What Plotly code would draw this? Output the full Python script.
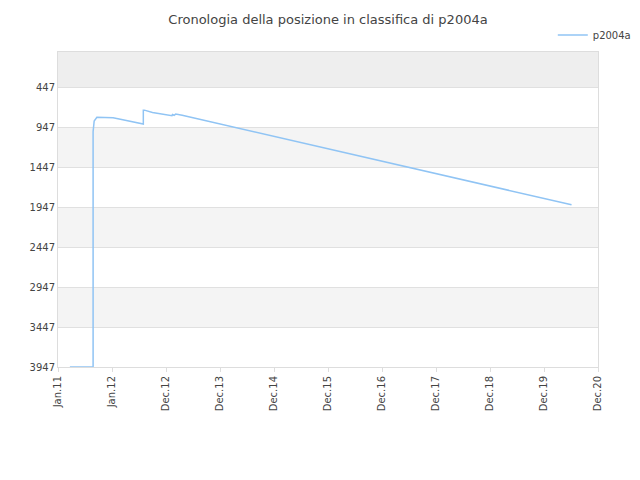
import plotly.graph_objects as go

# years since Jan 2011 and rank position
years = [0.22, 0.65, 0.65, 0.67, 0.72, 1.02, 1.20, 1.58, 1.58, 1.60, 1.75, 2.11, 2.12, 2.15, 2.18, 2.30, 9.51]
ranks = [3947, 3947, 1000, 867, 821, 825, 850, 904, 731, 731, 760, 801, 785, 795, 780, 795, 1916]

tick_vals = list(range(11))
tick_text = ["Jan.11", "Jan.12", "Dec.12", "Dec.13", "Dec.14", "Dec.15",
             "Dec.16", "Dec.17", "Dec.18", "Dec.19", "Dec.20"]
y_ticks = [447, 947, 1447, 1947, 2447, 2947, 3447, 3947]

fig = go.Figure()
fig.add_trace(go.Scatter(x=years, y=ranks, mode="lines", name="p2004a",
                         line=dict(color="#90c4f4", width=1.5)))

# alternating horizontal bands
bands = [(3, 447, "#eeeeee"), (947, 1447, "#f4f4f4"), (1947, 2447, "#f4f4f4"), (2947, 3447, "#f4f4f4")]
for y0, y1, c in bands:
    fig.add_shape(type="rect", xref="paper", x0=0, x1=1, y0=y0, y1=y1,
                  fillcolor=c, line_width=0, layer="below")

fig.update_layout(
    width=640, height=480,
    title=dict(text="Cronologia della posizione in classifica di p2004a", x=0.5, y=0.985,
               yanchor="top", font=dict(size=13, color="#444")),
    font=dict(family="DejaVu Sans", size=10, color="#444"),
    plot_bgcolor="white", paper_bgcolor="white",
    margin=dict(l=50, r=40, t=40, b=121),
    showlegend=True,
    legend=dict(x=1.07, y=1.1, xanchor="right", yanchor="top", font=dict(size=10),
                bgcolor="rgba(0,0,0,0)"),
    xaxis=dict(range=[0, 10], tickvals=tick_vals, ticktext=tick_text, tickangle=-90,
               automargin=False,
               showgrid=False, zeroline=False, showline=True, linecolor="#ddd", mirror=True,
               ticks="outside", ticklen=4, tickcolor="#ddd"),
    yaxis=dict(range=[3947, 3], autorange=False, tickvals=y_ticks, showgrid=True,
               automargin=False,
               gridcolor="#e0e0e0", zeroline=False, showline=True, linecolor="#ddd",
               mirror=True),
)
fig.write_html("out.html")
